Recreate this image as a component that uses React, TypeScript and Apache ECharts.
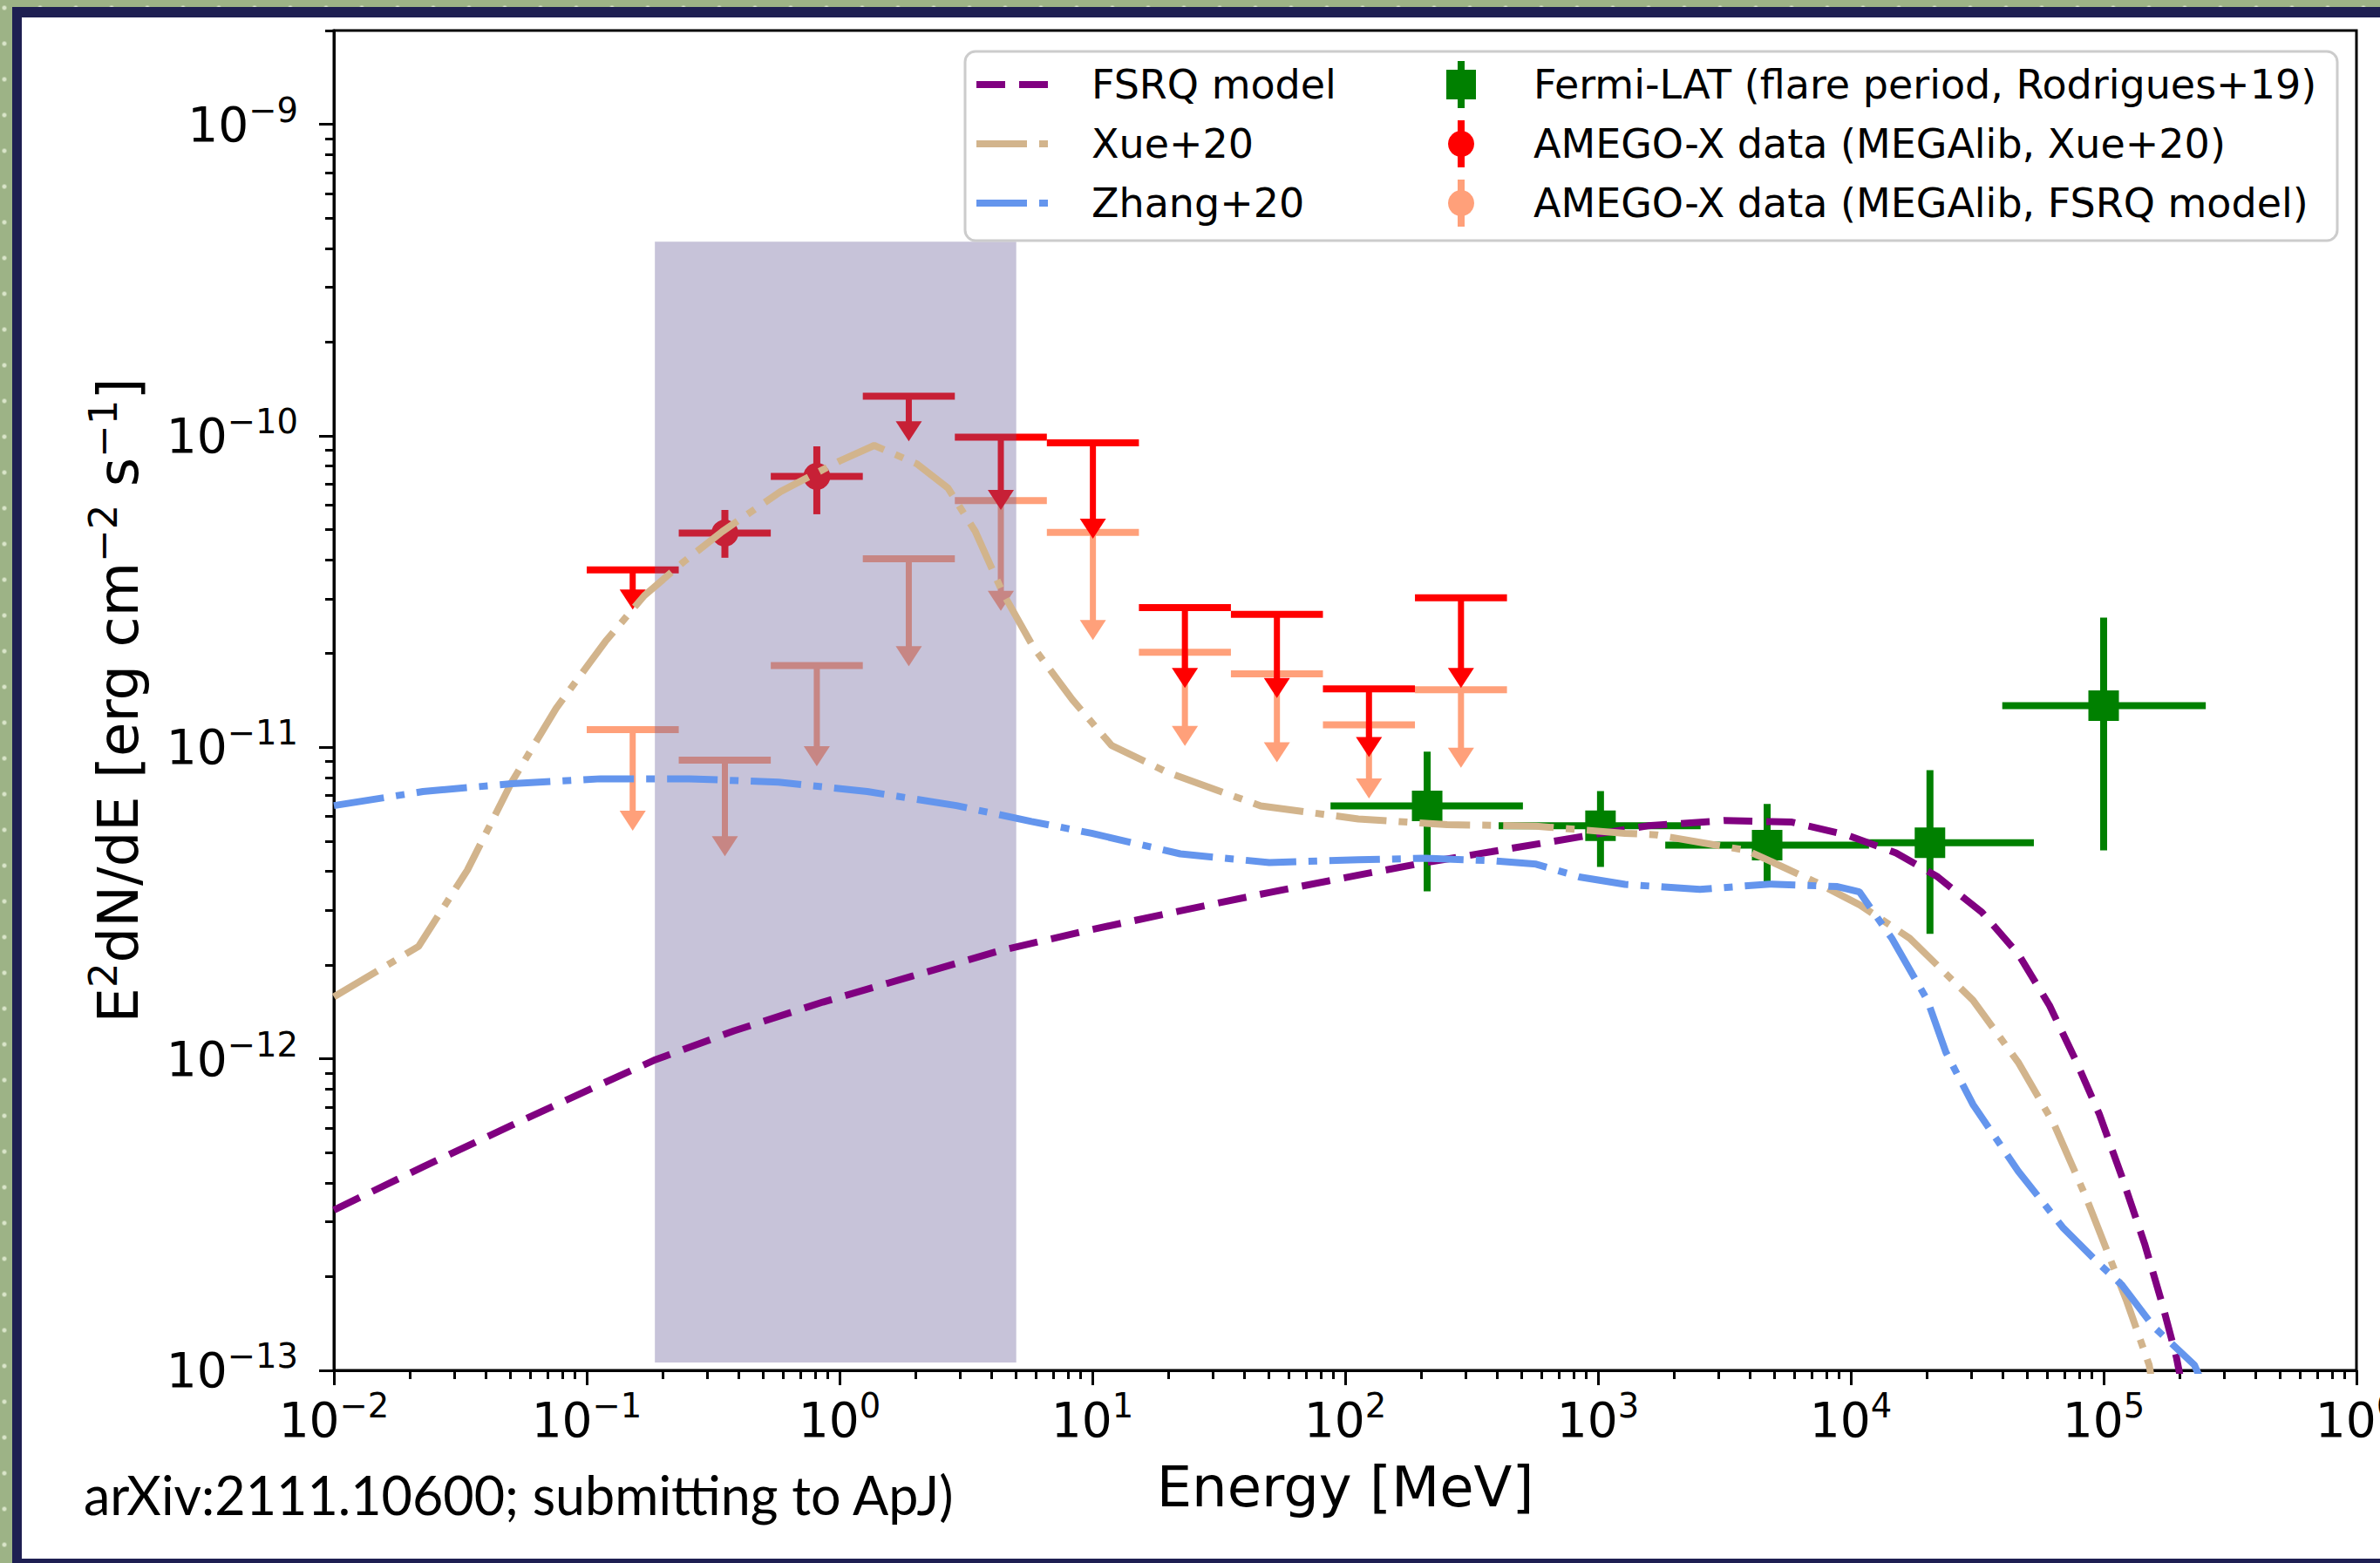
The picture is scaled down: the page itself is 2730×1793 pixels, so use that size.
import React, { useEffect, useRef } from 'react';
import * as echarts from 'echarts';

const W = 2730;
const H = 1793;

// ---------- model curves: E [MeV], E^2 dN/dE [erg cm^-2 s^-1] ----------
const fsrqE = [0.01, 0.02249, 0.05047, 0.1135, 0.1845, 0.3828, 0.859, 1.932, 4.345, 9.931, 22.28, 50.12, 112.7, 207.5, 379.3, 853.1, 1574, 3162, 5848, 9616, 15100, 21880, 32960, 45920, 61090, 78160, 96160, 118000, 145200, 171400, 194100, 204200];
const fsrqF = [3.27e-13, 4.5e-13, 6.12e-13, 8.28e-13, 9.89e-13, 1.23e-12, 1.521e-12, 1.841e-12, 2.228e-12, 2.6e-12, 2.985e-12, 3.42e-12, 3.89e-12, 4.266e-12, 4.624e-12, 5.164e-12, 5.598e-12, 5.821e-12, 5.754e-12, 5.236e-12, 4.581e-12, 3.855e-12, 2.958e-12, 2.173e-12, 1.483e-12, 9.75e-13, 6.64e-13, 4.19e-13, 2.55e-13, 1.61e-13, 1.1e-13, 8.9e-14];

const xueE = [0.01, 0.02163, 0.03373, 0.05047, 0.07568, 0.1186, 0.169, 0.2415, 0.3443, 0.5848, 1.0, 1.371, 2.023, 2.685, 3.443, 4.416, 5.861, 8.337, 11.91, 19.77, 46.34, 112.7, 252.9, 568.9, 1279, 1702, 3882, 7194, 10860, 17100, 30410, 45920, 63830, 85110, 104400, 123300, 151400, 154900];
const xueF = [1.581e-12, 2.296e-12, 4.036e-12, 7.727e-12, 1.334e-11, 2.188e-11, 3.069e-11, 3.936e-11, 4.932e-11, 6.622e-11, 8.299e-11, 9.311e-11, 8.128e-11, 6.792e-11, 4.932e-11, 3.141e-11, 2.089e-11, 1.422e-11, 1.014e-11, 8.318e-12, 6.486e-12, 5.888e-12, 5.649e-12, 5.585e-12, 5.297e-12, 5.236e-12, 4.667e-12, 3.707e-12, 3.119e-12, 2.438e-12, 1.542e-12, 9.75e-13, 6.14e-13, 3.6e-13, 2.36e-13, 1.67e-13, 1.04e-13, 9.3e-14];

const zhangE = [0.01, 0.02249, 0.05047, 0.1135, 0.2553, 0.5741, 1.288, 2.897, 5.741, 9.931, 22.28, 50.12, 112.7, 207.5, 379.3, 568.9, 853.1, 1279, 2529, 4775, 8851, 10810, 14520, 20090, 23770, 30410, 45920, 69340, 96380, 118000, 157800, 228600, 239900];
const zhangF = [6.501e-12, 7.211e-12, 7.638e-12, 7.925e-12, 7.925e-12, 7.727e-12, 7.211e-12, 6.501e-12, 5.781e-12, 5.297e-12, 4.55e-12, 4.266e-12, 4.355e-12, 4.406e-12, 4.325e-12, 4.217e-12, 3.828e-12, 3.631e-12, 3.499e-12, 3.639e-12, 3.573e-12, 3.436e-12, 2.438e-12, 1.542e-12, 1.05e-12, 7.14e-13, 4.36e-13, 2.86e-13, 2.19e-13, 1.88e-13, 1.38e-13, 1.04e-13, 9.5e-14];

// ---------- AMEGO-X energy bins [MeV] ----------
const amegoE = [0.152, 0.352, 0.813, 1.879, 4.345, 10.05, 23.23, 53.7, 124.2, 287.1];
const amegoElo = [0.1, 0.2312, 0.5346, 1.236, 2.858, 6.607, 15.28, 35.32, 81.66, 188.8];
const amegoEhi = [0.2312, 0.5346, 1.236, 2.858, 6.607, 15.28, 35.32, 81.66, 188.8, 436.5];

// AMEGO-X (MEGAlib, Xue+20): detections in bins 2 and 3, upper limits elsewhere
const xueDetBin = [1, 2];
const xueDetF = [4.87e-11, 7.41e-11];
const xueDetFlo = [4.06e-11, 5.6e-11];
const xueDetFhi = [5.78e-11, 9.25e-11];
const xueUlBin = [0, 3, 4, 5, 6, 7, 8, 9];
const xueUlF = [3.71e-11, 1.34e-10, 9.9e-11, 9.5e-11, 2.81e-11, 2.67e-11, 1.54e-11, 3.02e-11];
const xueUlTip = [2.77e-11, 9.6e-11, 5.78e-11, 4.67e-11, 1.55e-11, 1.44e-11, 9.3e-12, 1.55e-11];

// AMEGO-X (MEGAlib, FSRQ model): upper limits in all bins
const fsrqUlF = [1.14e-11, 9.1e-12, 1.83e-11, 4.03e-11, 6.19e-11, 4.9e-11, 2.02e-11, 1.72e-11, 1.18e-11, 1.53e-11];
const fsrqUlTip = [5.4e-12, 4.47e-12, 8.7e-12, 1.82e-11, 2.74e-11, 2.21e-11, 1.01e-11, 8.95e-12, 6.85e-12, 8.6e-12];

// Fermi-LAT (flare period, Rodrigues+19)
const fermiE = [211, 1023, 4667, 20560, 100000];
const fermiElo = [87.5, 404.6, 1845, 11320, 39720];
const fermiEhi = [504.7, 2547, 11800, 52970, 253500];
const fermiF = [6.49e-12, 5.6e-12, 4.85e-12, 4.94e-12, 1.36e-11];
const fermiFlo = [3.45e-12, 4.13e-12, 3.57e-12, 2.52e-12, 4.67e-12];
const fermiFhi = [9.68e-12, 7.24e-12, 6.58e-12, 8.45e-12, 2.61e-11];

// shaded energy band
const bandE = [0.186, 5.0];
const bandF = [1.06e-13, 4.2e-10];

// axes
const xTickExp = [-2, -1, 0, 1, 2, 3, 4, 5, 6];
const yTickExp = [-13, -12, -11, -10, -9];
const yMaxVal = 2e-9;

const lg = Math.log10;
const minorTicks = (lo: number, hi: number, max: number) => {
  const out: number[] = [];
  for (let n = lo; n <= hi; n++) {
    for (let k = 2; k <= 9; k++) {
      const v = Math.log10(k) + n;
      if (v <= max + 1e-9) out.push(v);
    }
  }
  return out;
};

const supStr = (n: number) => (n < 0 ? '\u2212' + Math.abs(n) : String(n));
const tickFmt = (v: number) => `{b|10}{s|${supStr(Math.round(v))}}`;
const tickRich = {
  b: { fontFamily: 'DejaVu Sans', fontSize: 55, lineHeight: 72, color: '#000' },
  s: { fontFamily: 'DejaVu Sans', fontSize: 38.5, lineHeight: 40, color: '#000', verticalAlign: 'top' },
};

const COL = {
  fsrq: '#800080',
  xue: '#d2b48c',
  zhang: '#6495ed',
  fermi: '#008000',
  red: '#ff0000',
  salmon: '#ffa07a',
};
const DASH = [33, 16];
const DASHDOT = [58, 14, 10, 14];

function errorBarItem(color: string, marker: 'square' | 'circle') {
  return (_p: any, api: any) => {
    const c = api.coord([api.value(0), api.value(1)]);
    const l = api.coord([api.value(2), api.value(1)]);
    const r = api.coord([api.value(3), api.value(1)]);
    const b = api.coord([api.value(0), api.value(4)]);
    const t = api.coord([api.value(0), api.value(5)]);
    const m =
      marker === 'square'
        ? { type: 'rect', shape: { x: c[0] - 17.5, y: c[1] - 17.5, width: 35, height: 35 }, style: { fill: color } }
        : { type: 'circle', shape: { cx: c[0], cy: c[1], r: 15.5 }, style: { fill: color } };
    return {
      type: 'group',
      children: [
        { type: 'line', shape: { x1: l[0], y1: l[1], x2: r[0], y2: r[1] }, style: { stroke: color, lineWidth: 8 } },
        { type: 'line', shape: { x1: b[0], y1: b[1], x2: t[0], y2: t[1] }, style: { stroke: color, lineWidth: 8 } },
        m,
      ],
    };
  };
}

function upperLimitItem(color: string) {
  return (_p: any, api: any) => {
    const c = api.coord([api.value(0), api.value(1)]);
    const l = api.coord([api.value(2), api.value(1)]);
    const r = api.coord([api.value(3), api.value(1)]);
    const tip = api.coord([api.value(0), api.value(4)]);
    const hh = 23;
    const hw = 15;
    return {
      type: 'group',
      children: [
        { type: 'line', shape: { x1: l[0], y1: l[1], x2: r[0], y2: r[1] }, style: { stroke: color, lineWidth: 8 } },
        { type: 'line', shape: { x1: c[0], y1: c[1], x2: tip[0], y2: tip[1] - hh + 1 }, style: { stroke: color, lineWidth: 7 } },
        {
          type: 'polygon',
          shape: { points: [[tip[0] - hw, tip[1] - hh], [tip[0] + hw, tip[1] - hh], [tip[0], tip[1]]] },
          style: { fill: color },
        },
      ],
    };
  };
}

function bandItem(_p: any, api: any) {
  const a = api.coord([api.value(0), api.value(3)]);
  const b = api.coord([api.value(2), api.value(1)]);
  return {
    type: 'rect',
    shape: { x: a[0], y: a[1], width: b[0] - a[0], height: b[1] - a[1] },
    style: { fill: 'rgba(100,88,150,0.36)' },
  };
}

const pairs = (xs: number[], ys: number[]) => xs.map((x, i) => [lg(x), lg(ys[i])]);

function buildOption() {
  const yMax = lg(yMaxVal);
  const legendRows = [97, 165, 233];
  const lineLegend = [
    { name: 'FSRQ model', color: COL.fsrq, dash: DASH },
    { name: 'Xue+20', color: COL.xue, dash: DASHDOT },
    { name: 'Zhang+20', color: COL.zhang, dash: DASHDOT },
  ];
  const markLegend = [
    { name: 'Fermi-LAT (flare period, Rodrigues+19)', color: COL.fermi, marker: 'square' },
    { name: 'AMEGO-X data (MEGAlib, Xue+20)', color: COL.red, marker: 'circle' },
    { name: 'AMEGO-X data (MEGAlib, FSRQ model)', color: COL.salmon, marker: 'circle' },
  ];
  const textBase = { fontFamily: 'DejaVu Sans', fontSize: 46, fill: '#000', verticalAlign: 'middle', align: 'left' };
  const graphic: any[] = [
    {
      type: 'rect',
      z: 100,
      shape: { x: 1107, y: 59, width: 1574, height: 217, r: 12 },
      style: { fill: 'rgba(255,255,255,0.85)', stroke: '#cccccc', lineWidth: 3 },
    },
  ];
  lineLegend.forEach((it, i) => {
    const y = legendRows[i];
    graphic.push({
      type: 'line',
      z: 101,
      shape: { x1: 1120, y1: y, x2: 1210, y2: y },
      style: { stroke: it.color, lineWidth: 8, lineDash: it.dash },
    });
    graphic.push({ type: 'text', z: 101, x: 1252, y, style: { ...textBase, text: it.name } });
  });
  markLegend.forEach((it, i) => {
    const y = legendRows[i];
    graphic.push({
      type: 'line',
      z: 101,
      shape: { x1: 1676, y1: y - 27, x2: 1676, y2: y + 27 },
      style: { stroke: it.color, lineWidth: 8 },
    });
    graphic.push(
      it.marker === 'square'
        ? { type: 'rect', z: 101, shape: { x: 1676 - 17, y: y - 17, width: 34, height: 34 }, style: { fill: it.color } }
        : { type: 'circle', z: 101, shape: { cx: 1676, cy: y, r: 15 }, style: { fill: it.color } }
    );
    graphic.push({ type: 'text', z: 101, x: 1759, y, style: { ...textBase, text: it.name } });
  });
  graphic.push({
    type: 'text',
    z: 101,
    x: 96,
    y: 1714,
    style: {
      text: 'arXiv:2111.10600; submitting to ApJ)',
      fontFamily: 'Lato',
      fontSize: 61,
      fill: '#000',
      verticalAlign: 'middle',
      align: 'left',
    },
  });

  const axisLineStyle = { color: '#000', width: 3 };

  return {
    animation: false,
    backgroundColor: 'transparent',
    textStyle: { fontFamily: 'DejaVu Sans' },
    grid: {
      left: 383,
      top: 35,
      right: 27,
      bottom: 221,
      show: true,
      borderColor: '#000',
      borderWidth: 3,
      backgroundColor: 'transparent',
      containLabel: false,
      outerBoundsMode: 'none',
    },
    xAxis: [
      {
        type: 'value',
        min: -2,
        max: 6,
        interval: 1,
        position: 'bottom',
        axisLine: { show: true, onZero: false, lineStyle: axisLineStyle },
        axisTick: { show: true, length: 17, lineStyle: axisLineStyle },
        axisLabel: { margin: 21, formatter: tickFmt, rich: tickRich, showMinLabel: true, showMaxLabel: true },
        splitLine: { show: false },
        name: 'Energy [MeV]',
        nameLocation: 'middle',
        nameGap: 102,
        nameTextStyle: { fontFamily: 'DejaVu Sans', fontSize: 64, lineHeight: 64, color: '#000' },
      },
      {
        type: 'value',
        min: -2,
        max: 6,
        position: 'bottom',
        axisLine: { show: false, onZero: false },
        axisTick: { show: true, length: 10, customValues: minorTicks(-2, 5, 6), lineStyle: axisLineStyle },
        axisLabel: { show: false },
        splitLine: { show: false },
      },
    ],
    yAxis: [
      {
        type: 'value',
        min: -13,
        max: yMax,
        position: 'left',
        axisLine: { show: true, onZero: false, lineStyle: axisLineStyle },
        axisTick: { show: true, length: 17, customValues: yTickExp, lineStyle: axisLineStyle },
        axisLabel: { margin: 41, customValues: yTickExp, formatter: tickFmt, rich: tickRich },
        splitLine: { show: false },
        name: 'E{s|2}dN/dE [erg cm{s|\u22122} s{s|\u22121}]',
        nameLocation: 'middle',
        nameRotate: 90,
        nameGap: 207,
        nameTextStyle: {
          fontFamily: 'DejaVu Sans',
          fontSize: 64,
          lineHeight: 80,
          color: '#000',
          rich: { s: { fontFamily: 'DejaVu Sans', fontSize: 45, lineHeight: 45, verticalAlign: 'top', color: '#000' } },
        },
      },
      {
        type: 'value',
        min: -13,
        max: yMax,
        position: 'left',
        axisLine: { show: false, onZero: false },
        axisTick: { show: true, length: 10, customValues: minorTicks(-13, -9, yMax), lineStyle: axisLineStyle },
        axisLabel: { show: false },
        splitLine: { show: false },
      },
    ],
    graphic,
    series: [
      {
        type: 'line',
        name: 'FSRQ model',
        data: pairs(fsrqE, fsrqF),
        symbol: 'none',
        silent: true,
        lineStyle: { color: COL.fsrq, width: 8, type: DASH },
      },
      {
        type: 'line',
        name: 'Xue+20',
        data: pairs(xueE, xueF),
        symbol: 'none',
        silent: true,
        lineStyle: { color: COL.xue, width: 8, type: DASHDOT },
      },
      {
        type: 'line',
        name: 'Zhang+20',
        data: pairs(zhangE, zhangF),
        symbol: 'none',
        silent: true,
        lineStyle: { color: COL.zhang, width: 8, type: DASHDOT },
      },
      {
        type: 'custom',
        name: 'AMEGO-X data (MEGAlib, FSRQ model)',
        renderItem: upperLimitItem(COL.salmon),
        silent: true,
        data: amegoE.map((e, i) => [lg(e), lg(fsrqUlF[i]), lg(amegoElo[i]), lg(amegoEhi[i]), lg(fsrqUlTip[i])]),
      },
      {
        type: 'custom',
        name: 'AMEGO-X data (MEGAlib, Xue+20)',
        renderItem: upperLimitItem(COL.red),
        silent: true,
        data: xueUlBin.map((b, i) => [lg(amegoE[b]), lg(xueUlF[i]), lg(amegoElo[b]), lg(amegoEhi[b]), lg(xueUlTip[i])]),
      },
      {
        type: 'custom',
        name: 'AMEGO-X data (MEGAlib, Xue+20) detections',
        renderItem: errorBarItem(COL.red, 'circle'),
        silent: true,
        data: xueDetBin.map((b, i) => [lg(amegoE[b]), lg(xueDetF[i]), lg(amegoElo[b]), lg(amegoEhi[b]), lg(xueDetFlo[i]), lg(xueDetFhi[i])]),
      },
      {
        type: 'custom',
        name: 'Fermi-LAT (flare period, Rodrigues+19)',
        renderItem: errorBarItem(COL.fermi, 'square'),
        silent: true,
        data: fermiE.map((e, i) => [lg(e), lg(fermiF[i]), lg(fermiElo[i]), lg(fermiEhi[i]), lg(fermiFlo[i]), lg(fermiFhi[i])]),
      },
      {
        type: 'custom',
        name: 'band',
        renderItem: bandItem,
        silent: true,
        data: [[lg(bandE[0]), lg(bandF[0]), lg(bandE[1]), lg(bandF[1])]],
      },
    ],
  };
}

export default function App() {
  const ref = useRef<HTMLDivElement>(null);
  useEffect(() => {
    if (!ref.current) return;
    const chart = echarts.init(ref.current, null, { renderer: 'svg', width: W, height: H });
    chart.setOption(buildOption() as any);
    return () => chart.dispose();
  }, []);
  const navy = '#1e1f52';
  return (
    <div
      style={{
        position: 'absolute',
        left: 0,
        top: 0,
        width: W,
        height: H,
        overflow: 'hidden',
        backgroundColor: '#9db386',
        backgroundImage: 'radial-gradient(circle, rgba(225,235,210,0.9) 2px, rgba(225,235,210,0) 3px)',
        backgroundSize: '41px 41px',
        backgroundPosition: '-15.5px -11.5px',
      }}
    >
      <div
        style={{
          position: 'absolute',
          left: 14,
          top: 8,
          width: W + 40,
          height: H + 40,
          boxSizing: 'border-box',
          borderLeft: `11px solid ${navy}`,
          borderTop: `12px solid ${navy}`,
          background: '#fff',
        }}
      />
      <div style={{ position: 'absolute', left: 14, top: 1788, width: W, height: 20, background: navy }} />
      <div ref={ref} style={{ position: 'absolute', left: 0, top: 0, width: W, height: H }} />
    </div>
  );
}
